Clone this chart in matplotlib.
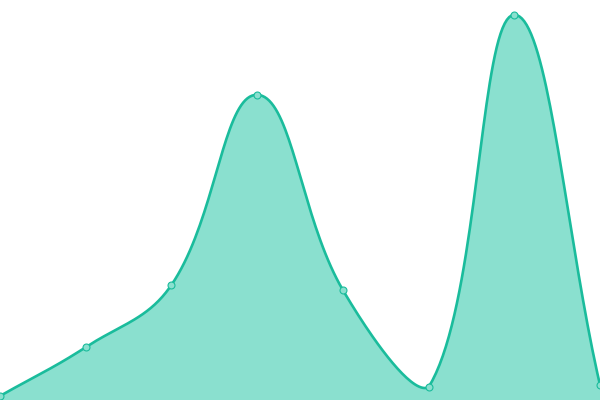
import numpy as np
import matplotlib
matplotlib.use("Agg")
import matplotlib.pyplot as plt

# values (y axis 0..100, no visible axes)
labels = ["A", "B", "C", "D", "E", "F", "G", "H"]
values = [1, 13.2, 28.75, 76.3, 27.5, 3.2, 96.3, 3.75]

line_color = "#1abc9c"
fill_color = "#8ae0cf"
tension = 0.4


def spline_points(px, py, t=0.4, box=None, steps=40):
    # chart.js-like spline: control points from neighbour distances
    n = len(px)
    cp_prev = []
    cp_next = []
    for i in range(n):
        p0 = (px[max(i - 1, 0)], py[max(i - 1, 0)])
        p1 = (px[i], py[i])
        p2 = (px[min(i + 1, n - 1)], py[min(i + 1, n - 1)])
        d01 = np.hypot(p1[0] - p0[0], p1[1] - p0[1])
        d12 = np.hypot(p2[0] - p1[0], p2[1] - p1[1])
        s01 = d01 / (d01 + d12) if d01 + d12 else 0
        s12 = d12 / (d01 + d12) if d01 + d12 else 0
        fa = t * s01
        fb = t * s12
        cp_prev.append([p1[0] - fa * (p2[0] - p0[0]), p1[1] - fa * (p2[1] - p0[1])])
        cp_next.append([p1[0] + fb * (p2[0] - p0[0]), p1[1] + fb * (p2[1] - p0[1])])
    if box is not None:
        # keep control points inside the chart area
        x0, x1, y0, y1 = box
        for cp in cp_prev + cp_next:
            cp[0] = min(max(cp[0], x0), x1)
            cp[1] = min(max(cp[1], y0), y1)
    xs, ys = [], []
    s = np.linspace(0, 1, steps)
    for i in range(n - 1):
        a = (px[i], py[i])
        b = cp_next[i]
        c = cp_prev[i + 1]
        d = (px[i + 1], py[i + 1])
        bx = (1 - s) ** 3 * a[0] + 3 * (1 - s) ** 2 * s * b[0] + 3 * (1 - s) * s ** 2 * c[0] + s ** 3 * d[0]
        by = (1 - s) ** 3 * a[1] + 3 * (1 - s) ** 2 * s * b[1] + 3 * (1 - s) * s ** 2 * c[1] + s ** 3 * d[1]
        xs.extend(bx)
        ys.extend(by)
    return np.array(xs), np.array(ys)


fig = plt.figure(figsize=(6, 4), dpi=100)
ax = fig.add_axes([0, 0, 1, 1])
ax.set_xlim(0, len(values) - 1)
ax.set_ylim(0, 100)
ax.axis("off")

x = np.arange(len(values))
# build the spline in pixel space, then map back to data
pix = ax.transData.transform(np.column_stack([x, values]))
area = ax.transData.transform([[0, min(values)], [len(values) - 1, 100]])
sx, sy = spline_points(pix[:, 0], pix[:, 1], tension,
                       box=(area[0, 0], area[1, 0], area[0, 1], area[1, 1]))
curve = ax.transData.inverted().transform(np.column_stack([sx, sy]))

ax.fill_between(curve[:, 0], curve[:, 1], 0, color=fill_color, linewidth=0, zorder=1)
ax.plot(curve[:, 0], curve[:, 1], color=line_color, linewidth=1.9, zorder=2,
        solid_capstyle="round", clip_on=False)
ax.plot(x, values, linestyle="none", marker="o", markersize=5,
        markerfacecolor=fill_color, markeredgecolor=line_color,
        markeredgewidth=0.8, zorder=3, clip_on=False)

fig.savefig("out.png", dpi=100)
